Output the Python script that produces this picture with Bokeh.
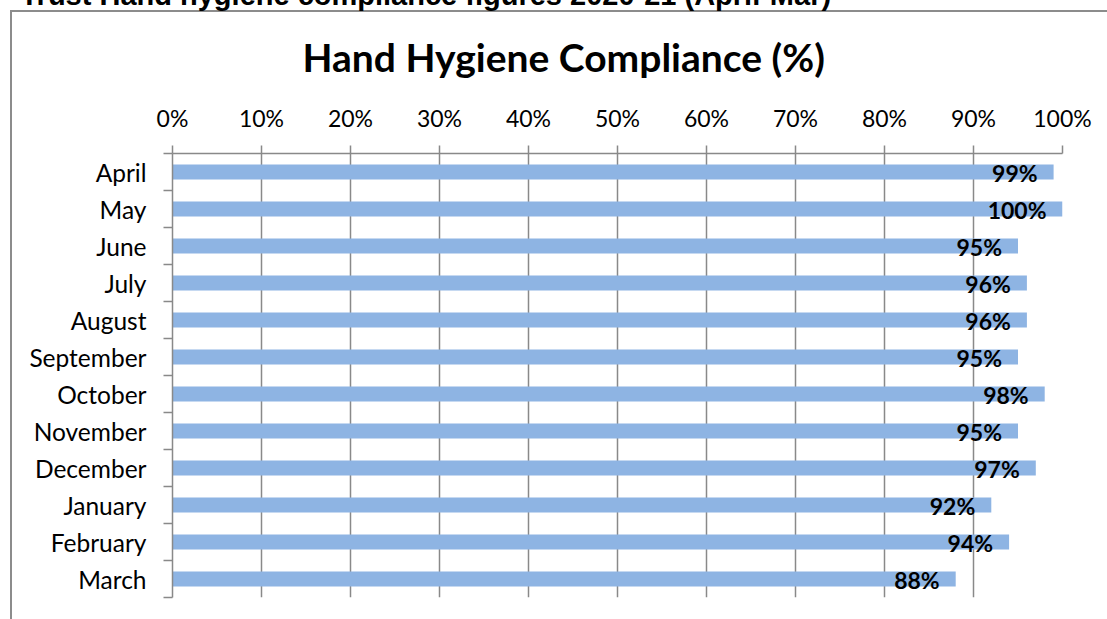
from bokeh.plotting import figure
from bokeh.models import (Range1d, FixedTicker, PrintfTickFormatter,
                          ColumnDataSource, Title)
from bokeh.core.properties import value
from bokeh.embed import file_html
from bokeh.resources import INLINE

# ---- data ----
months = ["April", "May", "June", "July", "August", "September",
          "October", "November", "December", "January", "February", "March"]
compliance = [99, 100, 95, 96, 96, 95, 98, 95, 97, 92, 94, 88]
x_ticks = [0, 10, 20, 30, 40, 50, 60, 70, 80, 90, 100]
chart_title = "Hand Hygiene Compliance (%)"
page_title = "Trust Hand hygiene compliance figures 2020-21 (April-Mar)"

n = len(months)
ypos = [n - i - 0.5 for i in range(n)]          # April at the top
labels = [f"{v}%" for v in compliance]
src = ColumnDataSource(dict(month=months, y=ypos, v=compliance, label=labels))

GRAY = "#898989"
BAR = "#8EB4E3"
FONT = "Lato"

p = figure(width=1107, height=619, output_backend="svg", toolbar_location=None,
           x_range=Range1d(0, 100), y_range=Range1d(0, n),
           x_axis_location="above", title_location=None,
           min_border_left=172, min_border_right=45,
           min_border_top=153, min_border_bottom=22)
p.background_fill_color = "white"
p.border_fill_color = None
p.outline_line_color = None
# outer chart frame (left and top edges are visible in the picture)
p.styles = {
    "background": ("linear-gradient(#8c8c8c, #8c8c8c) no-repeat 10px 10px / 2px 609px, "
                   "linear-gradient(#8c8c8c, #8c8c8c) no-repeat 10px 10px / 1097px 2px, "
                   "#ffffff"),
}

p.hbar(y="y", left=0, right="v", height=0.4, source=src,
       fill_color=BAR, line_color=None)
p.text(x="v", y="y", text="label", source=src, text_align="right",
       text_baseline="middle", x_offset=-16, y_offset=1,
       text_font=value(FONT), text_font_style="bold",
       text_font_size="23px", text_color="black")

# top axis
xa = p.xaxis[0]
xa.ticker = FixedTicker(ticks=x_ticks)
xa.formatter = PrintfTickFormatter(format="%d%%")
xa.axis_line_color = GRAY
xa.axis_line_width = 1.5
xa.major_tick_line_color = GRAY
xa.major_tick_line_width = 1.5
xa.major_tick_out = 8
xa.major_tick_in = 0
xa.minor_tick_line_color = None
xa.major_label_text_font = FONT
xa.major_label_text_font_size = "23px"
xa.major_label_text_color = "black"
xa.major_label_standoff = 14

# left axis: labels at centres, ticks at boundaries
ya = p.yaxis[0]
ya.ticker = FixedTicker(ticks=ypos, minor_ticks=list(range(n + 1)))
ya.major_label_overrides = {y: m for y, m in zip(ypos, months)}
ya.axis_line_color = GRAY
ya.axis_line_width = 1.5
ya.major_tick_line_color = None
ya.major_tick_out = 0
ya.major_tick_in = 0
ya.minor_tick_line_color = GRAY
ya.minor_tick_line_width = 1.5
ya.minor_tick_out = 9
ya.minor_tick_in = 0
ya.major_label_text_font = FONT
ya.major_label_text_font_size = "24.5px"
ya.major_label_text_color = "black"
ya.major_label_standoff = 17

p.xgrid.ticker = FixedTicker(ticks=x_ticks)
p.xgrid.grid_line_color = GRAY
p.xgrid.grid_line_width = 1.5
p.ygrid.grid_line_color = None

# chart title (closest to the axis)
p.add_layout(Title(text=chart_title, text_font=FONT, text_font_style="bold",
                   text_font_size="39px", align="left", offset=130,
                   vertical_align="bottom", standoff=-78,
                   padding=dict(left=0, right=0, top=0, bottom=60),
                   text_color="black"), "above")
# page heading, mostly cut off by the top edge as in the source image
p.add_layout(Title(text=page_title, text_font="Liberation Sans",
                   text_font_style="bold", text_font_size="29px",
                   align="left", offset=-152,
                   vertical_align="bottom", standoff=-80,
                   padding=dict(left=0, right=0, top=0, bottom=100),
                   text_color="black"), "above")

open("out.html", "w").write(file_html(p, INLINE))
